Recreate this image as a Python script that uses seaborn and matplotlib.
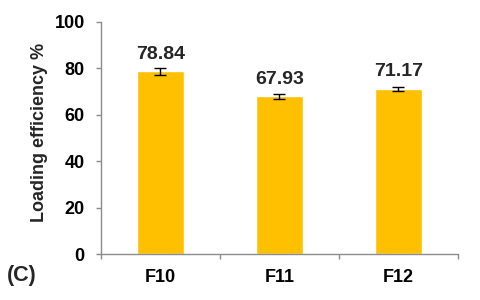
import matplotlib
matplotlib.use("Agg")
import matplotlib.pyplot as plt
import seaborn as sns
import pandas as pd

categories = ["F10", "F11", "F12"]
values = [78.84, 67.93, 71.17]
errors = [1.5, 1.1, 0.9]
labels = ["78.84", "67.93", "71.17"]

sns.set_style("white")
plt.rcParams['font.family'] = ['Liberation Sans', 'DejaVu Sans']
plt.rcParams['font.weight'] = 'bold'

df = pd.DataFrame({"cat": categories, "val": values})

fig = plt.figure(figsize=(4.8, 3.0), dpi=100)
ax = fig.add_axes([0.210, 0.153, 0.744, 0.774])
sns.barplot(data=df, x="cat", y="val", color="#FFC000", saturation=1, width=0.4, ax=ax, errorbar=None)
ax.errorbar(range(len(values)), values, yerr=errors, fmt="none", ecolor="black", elinewidth=1, capsize=4, capthick=1)
for i, (v, l) in enumerate(zip(values, labels)):
    ax.annotate(l, xy=(i, v), xytext=(0, 9), textcoords="offset points",
                ha="center", va="baseline", fontsize=14, fontweight="bold")

ax.set_ylim(0, 100)
ax.set_xlim(-0.5, 2.5)
ax.set_yticks([0, 20, 40, 60, 80, 100])
ax.set_xlabel("")
ax.set_ylabel("Loading efficiency %", fontsize=13, fontweight="bold")
ax.yaxis.set_label_coords(-0.172, 0.524)
ax.yaxis.label.set_va("center")
ax.tick_params(axis="x", labelsize=13, colors="black")
ax.tick_params(axis="y", labelsize=13, colors="black")
for t in ax.get_xticklabels() + ax.get_yticklabels():
    t.set_fontweight("bold")
ax.tick_params(axis="y", left=True, length=3.6, width=1, color="#8c8c8c", pad=8)
ax.set_xticks([-0.5, 0.5, 1.5, 2.5], minor=True)
ax.tick_params(axis="x", which="major", bottom=False, length=0, pad=10.5)
ax.tick_params(axis="x", which="minor", bottom=True, length=3.6, width=1, color="#8c8c8c")
for s in ["top", "right"]:
    ax.spines[s].set_visible(False)
for s in ["left", "bottom"]:
    ax.spines[s].set_color("#8c8c8c")
    ax.spines[s].set_linewidth(1)

fig.text(7/480, 0.064, "(C)", fontsize=15.5, fontweight="bold", va="baseline", ha="left")
fig.savefig("out.png", dpi=100)
